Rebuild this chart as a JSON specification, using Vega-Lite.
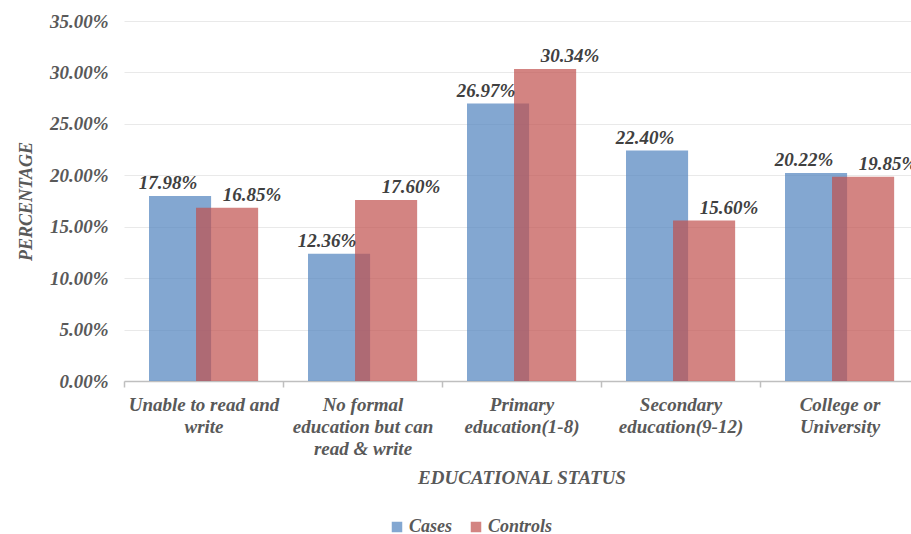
{
  "$schema": "https://vega.github.io/schema/vega-lite/v6.json",
  "width": 795,
  "height": 360,
  "autosize": {"type": "none"},
  "padding": {"left": 124, "top": 21, "right": 0, "bottom": 153},
  "background": "white",
  "config": {
    "font": "Liberation Serif",
    "view": {"stroke": null}
  },
  "data": {
    "values": [
      {"status": "Unable to read and write", "group": "Cases", "pct": 0.1798},
      {"status": "No formal education but can read & write", "group": "Cases", "pct": 0.1236},
      {"status": "Primary education(1-8)", "group": "Cases", "pct": 0.2697},
      {"status": "Secondary education(9-12)", "group": "Cases", "pct": 0.2240},
      {"status": "College or University", "group": "Cases", "pct": 0.2022},
      {"status": "Unable to read and write", "group": "Controls", "pct": 0.1685},
      {"status": "No formal education but can read & write", "group": "Controls", "pct": 0.1760},
      {"status": "Primary education(1-8)", "group": "Controls", "pct": 0.3034},
      {"status": "Secondary education(9-12)", "group": "Controls", "pct": 0.1560},
      {"status": "College or University", "group": "Controls", "pct": 0.1985}
    ]
  },
  "encoding": {
    "x": {
      "field": "status",
      "type": "nominal",
      "sort": null,
      "scale": {"paddingInner": 0, "paddingOuter": 0},
      "axis": {
        "title": "EDUCATIONAL STATUS",
        "labelAngle": 0,
        "labelExpr": "datum.value == 'Unable to read and write' ? ['Unable to read and', 'write'] : datum.value == 'No formal education but can read & write' ? ['No formal', 'education but can', 'read & write'] : datum.value == 'Primary education(1-8)' ? ['Primary', 'education(1-8)'] : datum.value == 'Secondary education(9-12)' ? ['Secondary', 'education(9-12)'] : datum.value == 'College or University' ? ['College or', 'University'] : ''",
        "labelFont": "Liberation Serif",
        "labelFontSize": 19,
        "labelFontStyle": "italic",
        "labelFontWeight": "bold",
        "labelColor": "#595959",
        "labelLineHeight": 22,
        "labelPadding": 8,
        "labelBaseline": "top",
        "labelLimit": 0,
        "domainColor": "#bfbfbf",
        "domainWidth": 1.5,
        "tickColor": "#bfbfbf",
        "tickWidth": 1.5,
        "tickSize": 6,
        "tickBand": "extent",
        "grid": false,
        "titleFont": "Liberation Serif",
        "titleFontSize": 19,
        "titleFontStyle": "italic",
        "titleFontWeight": "bold",
        "titleColor": "#595959",
        "titlePadding": 10
      }
    },
    "xOffset": {
      "field": "group",
      "type": "nominal",
      "sort": ["Cases", "Controls"],
      "scale": {"paddingInner": 0, "paddingOuter": 0.69, "align": 0.777}
    },
    "y": {
      "field": "pct",
      "type": "quantitative",
      "scale": {"domain": [0, 0.35]},
      "axis": {
        "title": "PERCENTAGE",
        "format": ".2%",
        "values": [0, 0.05, 0.1, 0.15, 0.2, 0.25, 0.3, 0.35],
        "domain": false,
        "ticks": false,
        "labelPadding": 16,
        "labelFont": "Liberation Serif",
        "labelFontSize": 19,
        "labelFontStyle": "italic",
        "labelFontWeight": "bold",
        "labelColor": "#595959",
        "gridColor": "#e9e9e9",
        "gridWidth": 1,
        "titleFont": "Liberation Serif",
        "titleFontSize": 18,
        "titleFontStyle": "italic",
        "titleFontWeight": "bold",
        "titleColor": "#595959",
        "titlePadding": 14
      }
    }
  },
  "layer": [
    {
      "mark": {"type": "bar", "width": {"band": 1.32}, "opacity": 0.7},
      "encoding": {
        "color": {
          "field": "group",
          "type": "nominal",
          "sort": ["Cases", "Controls"],
          "scale": {"domain": ["Cases", "Controls"], "range": ["#4F81BD", "#C0504D"]},
          "legend": {
            "title": null,
            "orient": "none",
            "direction": "horizontal",
            "legendX": 264,
            "legendY": 497,
            "symbolType": "square",
            "symbolSize": 110,
            "symbolOpacity": 0.7,
            "symbolStrokeWidth": 0,
            "labelFont": "Liberation Serif",
            "labelFontSize": 18,
            "labelFontStyle": "italic",
            "labelFontWeight": "bold",
            "labelColor": "#595959",
            "labelOffset": 3,
            "columnPadding": 14
          }
        }
      }
    },
    {
      "transform": [{"filter": "datum.group == 'Cases'"}],
      "mark": {
        "type": "text",
        "baseline": "alphabetic",
        "dy": -7,
        "dx": -30,
        "font": "Liberation Serif",
        "fontSize": 19,
        "fontStyle": "italic",
        "fontWeight": "bold",
        "color": "#404040"
      },
      "encoding": {"text": {"field": "pct", "type": "quantitative", "format": ".2%"}}
    },
    {
      "transform": [{"filter": "datum.group == 'Controls'"}],
      "mark": {
        "type": "text",
        "baseline": "alphabetic",
        "dy": -7,
        "dx": 7,
        "font": "Liberation Serif",
        "fontSize": 19,
        "fontStyle": "italic",
        "fontWeight": "bold",
        "color": "#404040"
      },
      "encoding": {"text": {"field": "pct", "type": "quantitative", "format": ".2%"}}
    }
  ]
}
